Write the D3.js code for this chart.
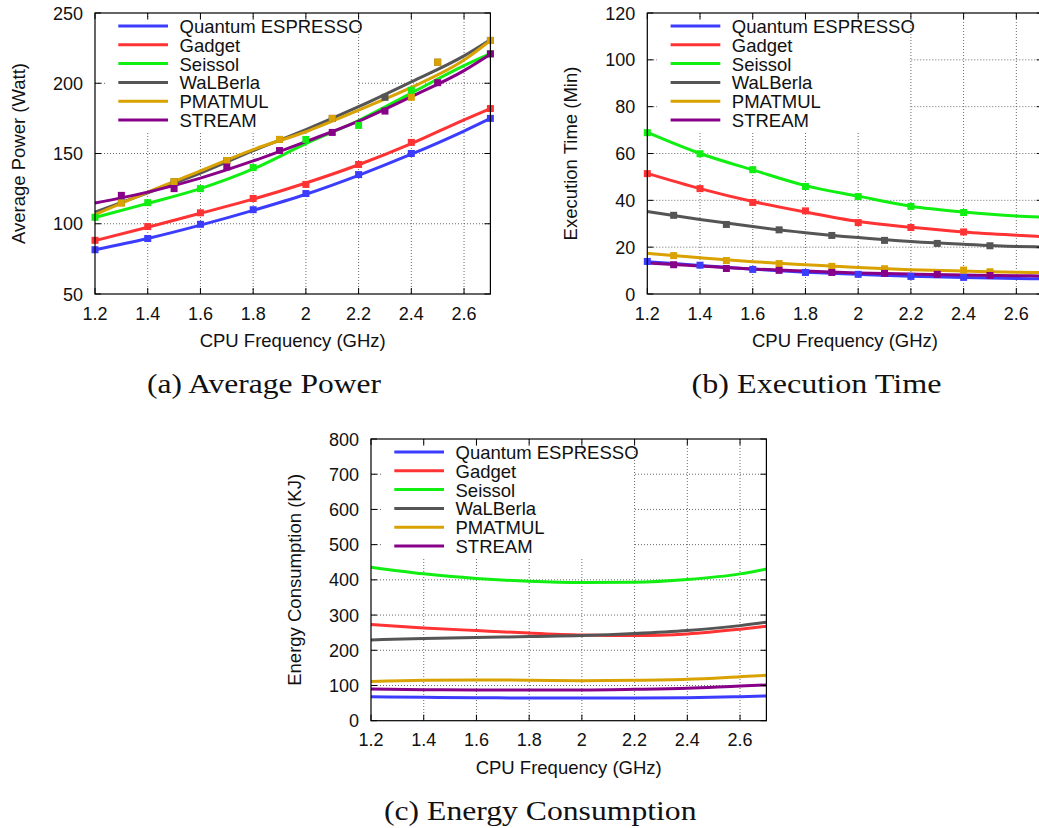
<!DOCTYPE html>
<html><head><meta charset="utf-8">
<script src="https://cdn.jsdelivr.net/npm/d3@7"></script>
<style>
body{margin:0;background:#fff;}
svg{display:block;}
text{font-family:"Liberation Sans",Arial,Helvetica,sans-serif;fill:#111;}
.cap{font-family:"Liberation Serif","Times New Roman",serif;}
</style></head><body>
<svg id="chart" width="1039" height="828"></svg>
<script>
// ---------- data ----------
const seriesNames = ["Quantum ESPRESSO", "Gadget", "Seissol", "WaLBerla", "PMATMUL", "STREAM"];
const seriesColors = ["#3c3cff", "#ff3333", "#11ee11", "#555555", "#d9a200", "#880088"];
const freqTicks = [1.2, 1.4, 1.6, 1.8, 2.0, 2.2, 2.4, 2.6];
const freqDomain = [1.2, 2.7];

// x positions where the fitted curves were read
const curveX = [1.2, 1.4, 1.6, 1.8, 2.0, 2.2, 2.4, 2.6, 2.7];
// x positions of the measured points
const evenX = [1.2, 1.4, 1.6, 1.8, 2.0, 2.2, 2.4, 2.7];
const oddX = [1.3, 1.5, 1.7, 1.9, 2.1, 2.3, 2.5, 2.7];
const pmatX = [1.3, 1.5, 1.7, 1.9, 2.1, 2.4, 2.5, 2.7];
const markerX = [evenX, evenX, evenX, oddX, pmatX, oddX];

// (a) Average Power (Watt)
const powerTicks = [50, 100, 150, 200, 250];
const powerCurveQE = [81.5, 89.5, 99, 109.5, 121, 134.5, 149.5, 166, 175];
const powerCurveGadget = [88, 97.5, 107.5, 117.5, 129, 142, 157, 174, 182];
const powerCurveSeissol = [104.5, 114.5, 125, 139, 157, 173.5, 193, 212.5, 221];
const powerCurveWaLBerla = [108.3, 122, 136, 152, 167, 183.3, 201, 219.5, 231];
const powerCurvePMATMUL = [106.5, 122.5, 137.6, 152.8, 165.5, 180.9, 197, 216.5, 230.4];
const powerCurveSTREAM = [114.7, 122.5, 132.5, 144.7, 158.5, 173, 190.5, 209, 220.7];
const powerPtsQE = [81.5, 89.5, 99.6, 110, 121.5, 135, 150, 175];
const powerPtsGadget = [88.2, 98, 107.8, 118, 128, 142.2, 157.9, 182];
const powerPtsSeissol = [104.6, 115, 125, 140, 160, 170, 195, 221];
const powerPtsWaLBerla = [115, 130, 145, 160, 175, 190, 215, 230.5];
const powerPtsPMATMUL = [114.7, 130, 145, 160, 175, 190, 215, 230.4];
const powerPtsSTREAM = [120.2, 125, 140.4, 152.1, 165, 180.2, 200.4, 220.9];

// (b) Execution Time (Min)
const timeTicks = [0, 20, 40, 60, 80, 100, 120];
const timeCurveQE = [13.8, 12.2, 10.6, 9.3, 8.4, 7.6, 7.0, 6.6, 6.5];
const timeCurveGadget = [51.5, 45, 39.5, 35, 31, 28.5, 26.5, 25.1, 24.5];
const timeCurveSeissol = [69, 60, 53, 46.3, 41.8, 37.5, 35, 33.3, 32.8];
const timeCurveWaLBerla = [35.2, 31.8, 28.8, 26.2, 24.1, 22.4, 21.2, 20.3, 20.1];
const timeCurvePMATMUL = [17.4, 15.5, 13.8, 12.5, 11.3, 10.4, 9.8, 9.3, 9.2];
const timeCurveSTREAM = [13.2, 12.0, 10.7, 9.8, 9.0, 8.5, 8.1, 7.8, 7.7];
const timePtsQE = [13.9, 12.3, 10.5, 9.2, 8.4, 7.5, 7.1, 6.5];
const timePtsGadget = [51.4, 45, 39.1, 35.5, 30.5, 28.4, 26.5, 24.4];
const timePtsSeissol = [68.9, 59.9, 53.1, 45.9, 41.6, 37.4, 34.8, 32.7];
const timePtsWaLBerla = [33.6, 29.7, 27.4, 25, 22.9, 21.6, 20.6, 20.0];
const timePtsPMATMUL = [16.4, 14.3, 13.0, 11.8, 10.8, 10.2, 9.5, 9.2];
const timePtsSTREAM = [12.5, 10.9, 10.1, 9.2, 8.8, 8.4, 7.9, 7.6];

// (c) Energy Consumption (KJ)
const energyTicks = [0, 100, 200, 300, 400, 500, 600, 700, 800];
const energyCurveQE = [68.3, 66.4, 65.4, 64.5, 64.5, 64.5, 65.4, 68.3, 70.2];
const energyCurveGadget = [273, 263.5, 256, 249, 243.6, 241.7, 246.5, 259.8, 268];
const energyCurveSeissol = [436, 417, 404, 396, 392.5, 393.4, 401, 417, 431];
const energyCurveWaLBerla = [229.4, 233.2, 236, 239, 241.7, 247.4, 256, 270, 279.7];
const energyCurvePMATMUL = [111, 114.7, 115.7, 115, 113.8, 114.7, 117.6, 125, 129];
const energyCurveSTREAM = [90, 88.2, 87.2, 87.2, 87.2, 89, 92, 98.6, 101.4];

// ---------- drawing ----------
const svg = d3.select("#chart");

function drawPanel(cfg) {
  const {left, top, width, height} = cfg;
  const right = left + width, bottom = top + height;
  const x = d3.scaleLinear().domain(freqDomain).range([left, right]);
  const y = d3.scaleLinear().domain(cfg.yDomain).range([bottom, top]);
  const g = svg.append("g");

  // grid
  const grid = g.append("g").attr("stroke", "#444").attr("stroke-width", 0.8)
    .attr("stroke-dasharray", "1,2").attr("fill", "none");
  freqTicks.filter(t => t > freqDomain[0]).forEach(t => {
    grid.append("line").attr("x1", x(t)).attr("x2", x(t)).attr("y1", top).attr("y2", bottom);
  });
  cfg.yTicks.filter(t => t > cfg.yDomain[0] && t < cfg.yDomain[1]).forEach(t => {
    grid.append("line").attr("x1", left).attr("x2", right).attr("y1", y(t)).attr("y2", y(t));
  });
  // key box clears the grid
  g.append("rect").attr("x", left + 10).attr("y", top + 7).attr("width", 252).attr("height", 111)
    .attr("fill", "#fff");

  // curves
  const line = d3.line().x(d => x(d[0])).y(d => y(d[1])).curve(d3.curveMonotoneX);
  cfg.curves.forEach((vals, i) => {
    g.append("path").datum(curveX.map((cx, j) => [cx, vals[j]]))
      .attr("d", line).attr("fill", "none").attr("stroke", seriesColors[i])
      .attr("stroke-width", 3).attr("stroke-linejoin", "round");
  });
  // markers
  if (cfg.markers) {
    cfg.markers.forEach((vals, i) => {
      g.append("g").selectAll("rect").data(vals.map((v, j) => [markerX[i][j], v])).join("rect")
        .attr("x", d => x(d[0]) - 3.5).attr("y", d => y(d[1]) - 3.5)
        .attr("width", 7).attr("height", 7).attr("fill", seriesColors[i]);
    });
  }

  // key
  seriesNames.forEach((name, i) => {
    const ry = top + 13 + i * 18.8;
    g.append("line").attr("x1", left + 23.3).attr("x2", left + 73).attr("y1", ry).attr("y2", ry)
      .attr("stroke", seriesColors[i]).attr("stroke-width", 3);
    g.append("text").attr("x", left + 84.5).attr("y", ry + 7).attr("font-size", 18.5).text(name);
  });

  // border
  g.append("rect").attr("x", left).attr("y", top).attr("width", width).attr("height", height)
    .attr("fill", "none").attr("stroke", "#000").attr("stroke-width", 1.2);
  // ticks (mirrored)
  const tk = g.append("g").attr("stroke", "#000").attr("stroke-width", 1);
  freqTicks.forEach(t => {
    tk.append("line").attr("x1", x(t)).attr("x2", x(t)).attr("y1", bottom).attr("y2", bottom - 6);
    tk.append("line").attr("x1", x(t)).attr("x2", x(t)).attr("y1", top).attr("y2", top + 6);
  });
  cfg.yTicks.forEach(t => {
    tk.append("line").attr("x1", left).attr("x2", left + 6).attr("y1", y(t)).attr("y2", y(t));
    tk.append("line").attr("x1", right).attr("x2", right - 6).attr("y1", y(t)).attr("y2", y(t));
  });

  // tick labels
  freqTicks.forEach(t => {
    g.append("text").attr("x", x(t)).attr("y", bottom + 25.5).attr("text-anchor", "middle")
      .attr("font-size", 18).text(d3.format("~g")(t));
  });
  cfg.yTicks.forEach(t => {
    g.append("text").attr("x", left - 12).attr("y", y(t) + 6.5).attr("text-anchor", "end")
      .attr("font-size", 18).text(t);
  });
  // axis titles
  g.append("text").attr("x", (left + right) / 2).attr("y", bottom + 53.3).attr("text-anchor", "middle")
    .attr("font-size", 18.5).text("CPU Frequency (GHz)");
  g.append("text").attr("transform", `translate(${left - 70},${(top + bottom) / 2}) rotate(-90)`)
    .attr("text-anchor", "middle").attr("font-size", 18.5).text(cfg.yTitle);
  // caption
  g.append("text").attr("class", "cap").attr("x", cfg.capX).attr("y", cfg.capY)
    .attr("font-size", 26.5).attr("textLength", cfg.capW).attr("lengthAdjust", "spacingAndGlyphs")
    .text(cfg.caption);
}

drawPanel({
  left: 95, top: 13, width: 395.4, height: 281, yDomain: [50, 250], yTicks: powerTicks,
  yTitle: "Average Power (Watt)", caption: "(a) Average Power", capX: 147, capY: 393, capW: 234,
  curves: [powerCurveQE, powerCurveGadget, powerCurveSeissol, powerCurveWaLBerla, powerCurvePMATMUL, powerCurveSTREAM],
  markers: [powerPtsQE, powerPtsGadget, powerPtsSeissol, powerPtsWaLBerla, powerPtsPMATMUL, powerPtsSTREAM]
});
drawPanel({
  left: 647.3, top: 13, width: 395.4, height: 281, yDomain: [0, 120], yTicks: timeTicks,
  yTitle: "Execution Time (Min)", caption: "(b) Execution Time", capX: 691.5, capY: 393, capW: 250,
  curves: [timeCurveQE, timeCurveGadget, timeCurveSeissol, timeCurveWaLBerla, timeCurvePMATMUL, timeCurveSTREAM],
  markers: [timePtsQE, timePtsGadget, timePtsSeissol, timePtsWaLBerla, timePtsPMATMUL, timePtsSTREAM]
});
drawPanel({
  left: 371, top: 439, width: 395.4, height: 281.7, yDomain: [0, 800], yTicks: energyTicks,
  yTitle: "Energy Consumption (KJ)", caption: "(c) Energy Consumption", capX: 384, capY: 820, capW: 312.5,
  curves: [energyCurveQE, energyCurveGadget, energyCurveSeissol, energyCurveWaLBerla, energyCurvePMATMUL, energyCurveSTREAM],
  markers: null
});
</script>
</body></html>
